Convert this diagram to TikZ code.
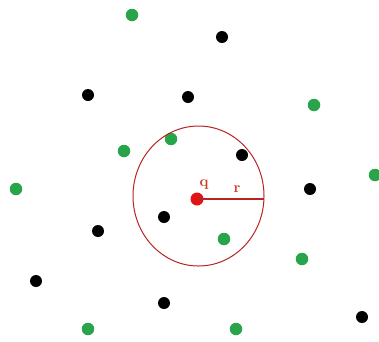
\documentclass[tikz,border=0pt]{standalone}
\begin{document}
\begin{tikzpicture}[x=1pt,y=-1pt,
  gdot/.style={circle,fill=ptgreen,inner sep=0pt,minimum size=12.5pt},
  bdot/.style={circle,fill=black,inner sep=0pt,minimum size=12pt},
  qdot/.style={circle,fill=ptred,inner sep=0pt,minimum size=13pt},
  lab/.style={text=labred,font=\fontsize{15}{15}\selectfont\bfseries,inner sep=0pt}]
\definecolor{ptgreen}{RGB}{40,165,75}
\definecolor{ptred}{RGB}{225,20,20}
\definecolor{cred}{RGB}{185,35,35}
\definecolor{labred}{RGB}{205,60,30}
\useasboundingbox (0,0) rectangle (379,341);
% green points
\node[gdot] (g1) at (132,15) {};
\node[gdot] (g2) at (314,105) {};
\node[gdot] (g3) at (124,151) {};
\node[gdot] (g4) at (171,139) {};
\node[gdot] (g5) at (16,189) {};
\node[gdot] (g6) at (375,175) {};
\node[gdot] (g7) at (224,239) {};
\node[gdot] (g8) at (302,259) {};
\node[gdot] (g9) at (88,329) {};
\node[gdot] (g10) at (236,329) {};
% black points
\node[bdot] (b1) at (222,37) {};
\node[bdot] (b2) at (88,95) {};
\node[bdot] (b3) at (188,97) {};
\node[bdot] (b4) at (242,155) {};
\node[bdot] (b5) at (310,189) {};
\node[bdot] (b6) at (164,217) {};
\node[bdot] (b7) at (98,231) {};
\node[bdot] (b8) at (36,281) {};
\node[bdot] (b9) at (164,303) {};
\node[bdot] (b10) at (362,317) {};
% query
\draw[cred,line width=1pt] (198.5,196) ellipse [x radius=65.5, y radius=70];
\node[qdot] (q) at (197,199) {};
\coordinate (rend) at (264,199);
\draw[cred,line width=1.3pt] (q.center) -- (rend);
\node[lab] (ql) at (204,185) {q};
\node[lab] (rl) at (237,189) {r};
\end{tikzpicture}
\end{document}
